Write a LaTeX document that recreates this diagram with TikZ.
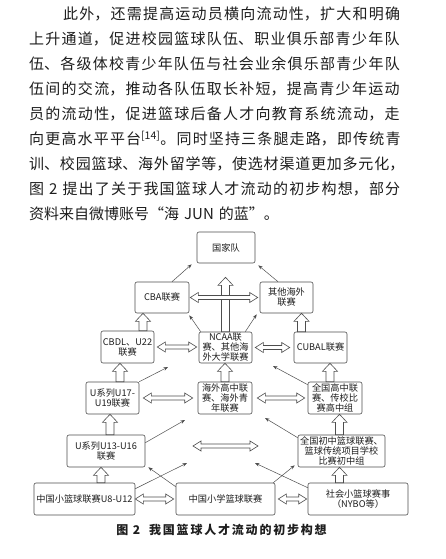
\documentclass[tikz,border=0pt]{standalone}
\usepackage{fontspec}
\setmainfont{Noto Sans CJK SC}
\usetikzlibrary{arrows.meta,calc}
\XeTeXlinebreaklocale "zh"
\XeTeXlinebreakskip=0pt plus 3pt
\definecolor{linec}{HTML}{4D4D4D}
\definecolor{textc}{HTML}{1E1E1E}

\begin{document}
\begin{tikzpicture}[x=1pt,y=-1pt,>={Stealth[length=4.5pt,width=3.4pt]},
  box/.style={draw=linec,line width=0.6pt,rounded corners=2pt,fill=white,inner sep=0pt,
    align=center,minimum height=32pt,text=textc,font=\fontsize{9.2}{10}\selectfont},
  thinarr/.style={draw=linec,line width=0.5pt,->},
  hollowup/.style={draw=linec,line width=0.6pt,fill=white,to path={
    let \p1=(\tikztostart), \p2=(\tikztotarget) in
    (\x1-4pt,\y1) -- (\x1-4pt,\y2-8pt) -- (\x1-7.5pt,\y2-8pt) -- (\x1,\y2)
    -- (\x1+7.5pt,\y2-8pt) -- (\x1+4pt,\y2-8pt) -- (\x1+4pt,\y1) -- cycle}},
  hollowlr/.style={draw=linec,line width=0.6pt,fill=white,to path={
    let \p1=(\tikztostart), \p2=(\tikztotarget) in
    (\x1,\y1) -- (\x1+8pt,\y1+5pt) -- (\x1+8pt,\y1+2pt) -- (\x2-8pt,\y1+2pt)
    -- (\x2-8pt,\y1+5pt) -- (\x2,\y1) -- (\x2-8pt,\y1-5pt) -- (\x2-8pt,\y1-2pt)
    -- (\x1+8pt,\y1-2pt) -- (\x1+8pt,\y1-5pt) -- cycle}}]
\fill[white] (0,0) rectangle (445,559);
\useasboundingbox (0,0) rectangle (445,559);

% text above the figure
\node[anchor=north west,inner sep=0pt,text width=383pt,text=textc,
  font=\fontsize{15}{25}\selectfont] (para) at (29,7) {\hspace*{34pt}此外，还需提高运动员横向流动性，扩大和明确\linebreak
上升通道，促进校园篮球队伍、职业俱乐部青少年队\linebreak
伍、各级体校青少年队伍与社会业余俱乐部青少年队\linebreak
伍间的交流，推动各队伍取长补短，提高青少年运动\linebreak
员的流动性，促进篮球后备人才向教育系统流动，走\linebreak
向更高水平平台\textsuperscript{[14]}。同时坚持三条腿走路，即传统青\linebreak
训、校园篮球、海外留学等，使选材渠道更加多元化，\linebreak
图 2 提出了关于我国篮球人才流动的初步构想，部分\linebreak
资料来自微博账号“海 JUN 的蓝”。};

% boxes
\node[box,minimum width=58pt,minimum height=31pt] (gjd) at (226,247.5) {国家队};
\node[box,minimum width=54pt,minimum height=31pt] (cba) at (162,297.5) {CBA联赛};
\node[box,minimum width=53pt,minimum height=31pt] (qthw) at (286.5,297.5) {其他海外\\联赛};
\node[box,minimum width=53pt] (cbdl) at (127.5,347) {CBDL、U22\\联赛};
\node[box,minimum width=53pt,minimum height=31pt] (ncaa) at (225.5,347.5) {NCAA联\\赛、其他海\\外大学联赛};
\node[box,minimum width=53pt,minimum height=31pt] (cubal) at (320.5,347.5) {CUBAL联赛};
\node[box,minimum width=53pt] (u17) at (112.5,398) {U系列U17-\\U19联赛};
\node[box,minimum width=54pt] (hwgz) at (225,398) {海外高中联\\赛、海外青\\年联赛};
\node[box,minimum width=54pt] (qggz) at (335,398) {全国高中联\\赛、传校比\\赛高中组};
\node[box,minimum width=78pt] (u13) at (106,451) {U系列U13-U16\\联赛};
\node[box,minimum width=87pt] (qgcz) at (341.5,451) {全国初中篮球联赛、\\篮球传统项目学校\\比赛初中组};
\node[box,minimum width=101pt] (xlq) at (84.5,499) {中国小篮球联赛U8-U12};
\node[box,minimum width=99pt] (xxlq) at (225.5,499) {中国小学篮球联赛};
\node[box,minimum width=100pt] (shx) at (358,499) {社会小篮球赛事\\（NYBO等）};

% free ends
\coordinate (midl) at (193,446);
\coordinate (midr) at (258,446);
\coordinate (t1) at (168,367);
\coordinate (t2) at (273,366);
\coordinate (t3) at (185,420);
\coordinate (t4) at (265,418);
\coordinate (t5) at (187,463);
\coordinate (t6) at (255,463);

% upward block arrows
\draw[hollowup] ([xshift=15.5pt]cbdl.north) to (cba.south);
\draw[hollowup] ([xshift=7.5pt]u17.north) to (cbdl.south);
\draw[hollowup] ([xshift=4pt]u13.north) to (u17.south);
\draw[hollowup] ([xshift=16.5pt]xlq.north) to (u13.south);
\draw[hollowup] (ncaa.north) to ([yshift=-14pt]gjd.south);
\draw[hollowup] (hwgz.north) to (ncaa.south);
\draw[hollowup] ([xshift=-5pt]qggz.north) to (cubal.south);
\draw[hollowup] ([xshift=-19pt]cubal.north) to (qthw.south);
\draw[hollowup] ([xshift=-2pt]qgcz.north) to (qggz.south);
\draw[hollowup] ([xshift=-18.5pt]shx.north) to (qgcz.south);

% two-way block arrows
\draw[hollowlr] ([xshift=1pt]cba.east) to ([xshift=-2pt]qthw.west);
\draw[hollowlr] ([xshift=3pt]cbdl.east) to ([xshift=-2pt]ncaa.west);
\draw[hollowlr] ([xshift=3pt]ncaa.east) to ([xshift=-4pt]cubal.west);
\draw[hollowlr] ([xshift=4pt]u17.east) to ([xshift=-5pt]hwgz.west);
\draw[hollowlr] ([xshift=5pt]hwgz.east) to ([xshift=-3pt]qggz.west);
\draw[hollowlr] (midl) to (midr);
\draw[hollowlr] (xlq.east) to ([xshift=-2pt]xxlq.west);
\draw[hollowlr] ([xshift=3pt]xxlq.east) to ([xshift=-1pt]shx.west);

% thin arrows
\draw[thinarr] ([xshift=10pt]cba.north) -- ([xshift=-5pt,yshift=-1pt]gjd.south west);
\draw[thinarr] ([xshift=-8.5pt]qthw.north) -- ([xshift=3pt,yshift=-2pt]gjd.south east);
\draw[thinarr] ([xshift=2pt]ncaa.north west) -- ([yshift=-2pt]cba.south east);
\draw[thinarr] ([xshift=-7pt]ncaa.north east) -- ([xshift=-3pt,yshift=-1pt]qthw.south west);
\draw[thinarr] (u17.north east) -- (t1);
\draw[thinarr] ([yshift=-3pt]qggz.north west) -- (t2);
\draw[thinarr] ([yshift=-8pt]u13.north east) -- (t3);
\draw[thinarr] ([yshift=-3pt]qgcz.north west) -- (t4);
\draw[thinarr] ([yshift=-6pt]xlq.north east) -- (t5);
\draw[thinarr] ([yshift=-4pt]xxlq.north west) -- ([xshift=3pt]u13.south east);
\draw[thinarr] ([xshift=-2pt]xxlq.north east) -- ([xshift=-3pt,yshift=2pt]qgcz.south west);
\draw[thinarr] ([yshift=-5pt]shx.north west) -- (t6);

% caption
\node[text=textc,font=\bfseries\fontsize{12}{12}\selectfont\addfontfeature{LetterSpace=15}] (cap)
  at (221.5,530) {图 2\hspace{9pt}我国篮球人才流动的初步构想};
\end{tikzpicture}
\end{document}
